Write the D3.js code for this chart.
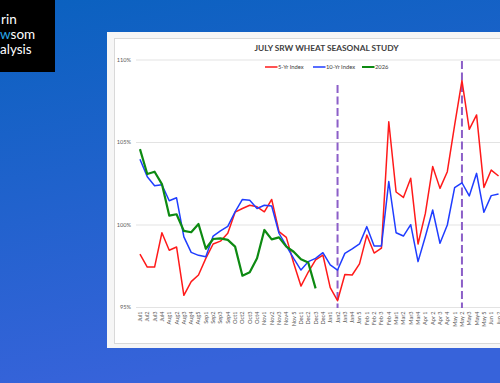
<!DOCTYPE html>
<html><head><meta charset="utf-8">
<script src="https://cdn.jsdelivr.net/npm/d3@7"></script>
<style>html,body{margin:0;padding:0;overflow:hidden;}svg{display:block;}</style>
</head><body>
<script>
const categories = ["Jul1","Jul2","Jul3","Jul4","Aug1","Aug2","Aug3","Aug4","Aug5","Sep1","Sep2","Sep3","Sep4","Oct1","Oct2","Oct3","Oct4","Nov1","Nov2","Nov3","Nov4","Nov 5","Dec1","Dec2","Dec3","Dec4","Jan1","Jan2","Jan3","Jan4","Jan 5","Feb 1","Feb 2","Feb 3","Feb 4","Mar1","Mar2","Mar3","Mar4","Apr 1","Apr 2","Apr 3","Apr 4","May 1","May 2","May3","May4","May 5","Jun 1","Jun 2"];
const fiveYr = [98.24,97.45,97.45,99.53,98.47,98.67,95.74,96.57,96.97,97.98,98.85,99.02,99.5,100.78,101.0,101.2,101.1,100.8,101.55,99.6,99.25,97.7,96.3,97.15,97.88,98.18,96.2,95.41,97.0,96.97,97.64,99.39,98.3,98.6,106.26,102.0,101.67,102.83,98.85,100.7,103.54,102.22,103.23,106.06,108.75,105.8,106.67,102.28,103.33,102.97];
const tenYr = [103.98,102.93,102.38,102.44,101.47,101.65,99.28,98.34,98.16,98.08,99.33,99.64,99.92,100.8,101.55,101.5,101.0,101.2,101.15,99.5,98.73,97.98,97.27,97.78,97.98,98.32,97.58,97.27,98.28,98.55,98.85,99.9,98.73,98.73,102.63,99.53,99.33,100.02,97.78,99.3,100.91,98.89,100.0,102.26,102.56,101.76,103.13,100.77,101.78,101.88];
const y2026 = [104.6,103.09,103.23,102.48,100.57,100.65,99.64,99.56,100.06,98.56,99.15,99.19,99.1,98.69,96.93,97.13,97.98,99.7,99.13,99.25,98.69,98.38,97.92,97.72,96.16];
const yTicks = [95,100,105,110];
const markers = [{cat:"Jan2", top:85},{cat:"May 2", top:61}];
const seriesNames = ["5-Yr Index","10-Yr Index","2026"];

const W=500,H=383;
const svg=d3.select("body").append("svg").attr("width",W).attr("height",H);
const defs=svg.append("defs");
const g1=defs.append("linearGradient").attr("id","bg").attr("x1",0).attr("y1",0).attr("x2",0.25).attr("y2",1);
g1.append("stop").attr("offset","0%").attr("stop-color","#0a61bf");
g1.append("stop").attr("offset","100%").attr("stop-color","#3763da");
svg.append("rect").attr("width",W).attr("height",H).attr("fill","url(#bg)");

// logo box
svg.append("rect").attr("x",0).attr("y",0).attr("width",55).attr("height",72).attr("fill","#000");
const lf="Lato, 'Open Sans', sans-serif";
svg.append("text").attr("x",1).attr("y",24).attr("fill","#fff").attr("font-family",lf).attr("font-size",13.5).attr("font-weight",400).text("rin");
const t2=svg.append("text").attr("x",0).attr("y",39).attr("font-family",lf).attr("font-size",13.5).attr("font-weight",400);
t2.append("tspan").attr("fill","#29a8e8").text("w");
t2.append("tspan").attr("fill","#fff").text("som");
svg.append("text").attr("x",0).attr("y",54).attr("fill","#fff").attr("font-family",lf).attr("font-size",13.5).attr("font-weight",400).text("alysis");

// panel
svg.append("rect").attr("x",107).attr("y",32).attr("width",400).attr("height",316).attr("fill","#f6f6f6");
svg.append("rect").attr("x",114.5).attr("y",38.5).attr("width",400).attr("height",305).attr("fill","#fff").attr("stroke","#d9d9d9").attr("stroke-width",1);

const x=d3.scaleBand().domain(categories).range([136.3,136.3+categories.length*7.318]).padding(0);
const y=d3.scaleLinear().domain([95,110]).range([307.5,60]);
const cx=c=>x(c)+x.bandwidth()/2;

// grid
svg.append("g").selectAll("line").data(yTicks).join("line")
 .attr("x1",136).attr("x2",520).attr("y1",d=>y(d)).attr("y2",d=>y(d))
 .attr("stroke","#e3e3e3").attr("stroke-width",1);
svg.append("g").selectAll("text").data(yTicks).join("text")
 .attr("x",131).attr("y",d=>y(d)).attr("dy","0.35em").attr("text-anchor","end")
 .attr("font-family",lf).attr("font-size",5.6).attr("fill","#595959").text(d=>d+"%");

// x labels
svg.append("g").selectAll("text").data(categories).join("text")
 .attr("transform",d=>`translate(${cx(d)},311.5) rotate(-90)`)
 .attr("text-anchor","end").attr("dy","0.35em")
 .attr("font-family",lf).attr("font-size",5.6).attr("fill","#595959").text(d=>d);

// markers
svg.append("g").selectAll("line").data(markers).join("line")
 .attr("x1",d=>cx(d.cat)).attr("x2",d=>cx(d.cat)).attr("y1",d=>d.top).attr("y2",308)
 .attr("stroke","#8c5fc8").attr("stroke-width",2).attr("stroke-dasharray","8,3.5");

const line=d3.line().x((d,i)=>cx(categories[i])).y(d=>y(d));
const series=[{v:fiveYr,c:"#ff1a1a",w:1.5},{v:tenYr,c:"#1f3dff",w:1.5},{v:y2026,c:"#0d8a12",w:2.2}];
series.forEach(s=>svg.append("path").datum(s.v).attr("d",line).attr("fill","none").attr("stroke",s.c).attr("stroke-width",s.w).attr("stroke-linejoin","round"));

// title
svg.append("text").attr("x",326.5).attr("y",51).attr("text-anchor","middle")
 .attr("font-family",lf).attr("font-weight",700).attr("font-size",8.3).attr("fill","#404040").text("JULY SRW WHEAT SEASONAL STUDY");

// legend
const leg=[{n:seriesNames[0],c:"#ff1a1a",x:265,w:1.5},{n:seriesNames[1],c:"#1f3dff",x:313,w:1.5},{n:seriesNames[2],c:"#0d8a12",x:362,w:2}];
const lg=svg.append("g");
leg.forEach(l=>{
  lg.append("line").attr("x1",l.x).attr("x2",l.x+12.5).attr("y1",67).attr("y2",67).attr("stroke",l.c).attr("stroke-width",l.w);
  lg.append("text").attr("x",l.x+13).attr("y",67).attr("dy","0.35em").attr("font-family",lf).attr("font-size",5.8).attr("fill","#404040").text(l.n);
});
</script>
</body></html>
